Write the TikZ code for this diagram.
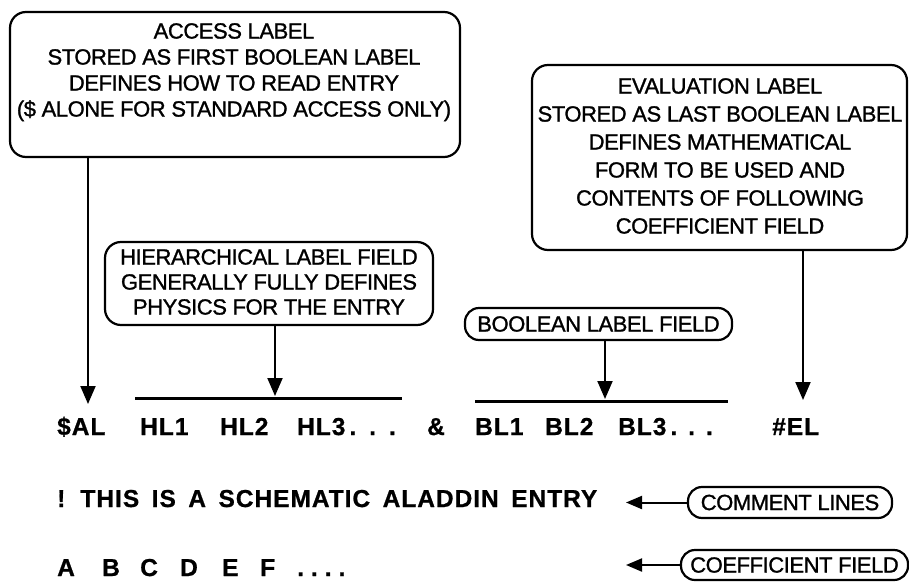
\documentclass[tikz,border=0pt]{standalone}
\usepackage{fontspec}
\setmainfont{Liberation Sans}
\newfontfamily\boxfont[LetterSpace=-2,FakeBold=1.2]{Liberation Sans}
\newfontfamily\rowfont[LetterSpace=4,FakeBold=0.8]{Liberation Sans Bold}
\usetikzlibrary{arrows.meta}

\tikzset{
  panel/.style={draw, line width=2.2pt, rounded corners=16pt},
  pill/.style={draw, line width=2.2pt, rounded corners=14pt, inner sep=0pt,
    font=\boxfont\fontsize{22}{26}\selectfont},
  note/.style={anchor=north, align=center, inner sep=0pt},
  tok/.style={anchor=base west, inner sep=0pt,
    font=\rowfont\fontsize{24.5}{28}\selectfont},
  down/.style={line width=2pt, -{Triangle[length=18pt,width=15pt]}},
  pointer/.style={line width=2pt, -{Triangle[length=16pt,width=13pt]}},
  bar/.style={line width=3pt},
}

\begin{document}
\begin{tikzpicture}[x=1pt,y=-1pt]
\useasboundingbox (0,0) rectangle (909,586);

% --- explanatory panels -------------------------------------------------
\node[panel, minimum width=450pt, minimum height=145pt] (acc) at (235,84.5) {};
\node[note, font=\boxfont\fontsize{22}{26}\selectfont] (acctext) at (234,23)
  {ACCESS LABEL\\STORED AS FIRST BOOLEAN LABEL\\DEFINES HOW TO READ ENTRY\\(\$ ALONE FOR STANDARD ACCESS ONLY)};

\node[panel, minimum width=375pt, minimum height=185pt] (eval) at (719.5,157.5) {};
\node[note, font=\boxfont\fontsize{22}{28}\selectfont] (evaltext) at (720,78)
  {EVALUATION LABEL\\STORED AS LAST BOOLEAN LABEL\\DEFINES MATHEMATICAL\\FORM TO BE USED AND\\CONTENTS OF FOLLOWING\\COEFFICIENT FIELD};

\node[panel, minimum width=328pt, minimum height=83pt] (hier) at (269,283.5) {};
\node[note, font=\boxfont\fontsize{22}{25}\selectfont] (hiertext) at (269,249)
  {HIERARCHICAL LABEL FIELD\\GENERALLY FULLY DEFINES\\PHYSICS FOR THE ENTRY};

\node[pill, minimum width=267pt, minimum height=32pt] (bool) at (598.5,324) {BOOLEAN LABEL FIELD};
\node[pill, minimum width=204pt, minimum height=31pt] (comm) at (790,502.5) {COMMENT LINES};
\node[pill, minimum width=227pt, minimum height=30pt] (coef) at (794.5,565) {COEFFICIENT FIELD};

% --- the schematic entry ------------------------------------------------
\node[tok] (sal) at (57,435) {\$AL};
\node[tok] (hl1) at (140,435) {HL1};
\node[tok] (hl2) at (220,435) {HL2};
\node[tok] (hl3) at (297,435) {HL3\hspace{4pt}.\hspace{13pt}.\hspace{13pt}.};
\node[tok] (amp) at (427,435) {\&};
\node[tok] (bl1) at (475,435) {BL1};
\node[tok] (bl2) at (545,435) {BL2};
\node[tok] (bl3) at (618,435) {BL3\hspace{4pt}.\hspace{11pt}.\hspace{11pt}.};
\node[tok] (el)  at (772,435) {\#EL};

\node[tok] (cmt) at (57,507) {\spaceskip=12.5pt ! THIS IS A SCHEMATIC ALADDIN ENTRY};

\foreach \t/\x in {A/57,B/102,C/140,D/180,E/222,F/260}
  \node[tok] (c\t) at (\x,576) {\t};
\node[tok] (cdots) at (297,576) {.\hspace{7pt}.\hspace{7pt}.\hspace{7pt}.};

% --- field bars ------------------------------------------------------------
\coordinate (hlL) at (135,398);
\coordinate (hlR) at (402,398);
\coordinate (blL) at (475,401);
\coordinate (blR) at (728,401);
\draw[bar] (hlL) -- (hlR);
\draw[bar] (blL) -- (blR);

% --- arrow ends ------------------------------------------------------------
\coordinate (saltip) at (88,404);
\coordinate (hltip)  at (275,396);
\coordinate (bltip)  at (605,399);
\coordinate (eltip)  at (803,400);
\coordinate (ctip)   at (626,500);
\coordinate (ftip)   at (626,565);

\draw[down] (acc.south -| saltip) -- (saltip);
\draw[down] (hier.south -| hltip) -- (hltip);
\draw[down] (bool.south -| bltip) -- (bltip);
\draw[down] (eval.south -| eltip) -- (eltip);
\draw[pointer] (comm.west) -- (ctip |- comm.west);
\draw[pointer] (coef.west) -- (ftip |- coef.west);
\end{tikzpicture}
\end{document}
